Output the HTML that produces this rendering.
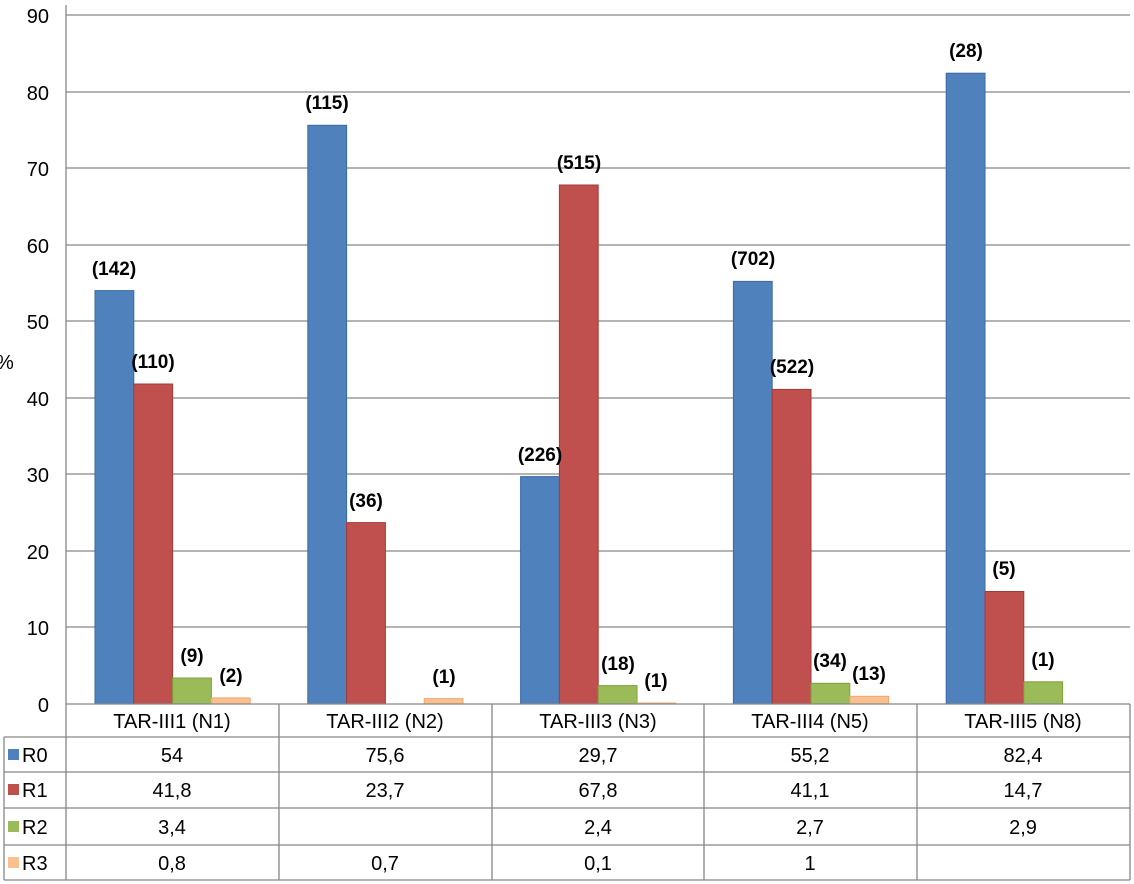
<!DOCTYPE html>
<html><head><meta charset="utf-8"><style>html,body{margin:0;padding:0;background:#fff}svg{display:block}</style></head><body>
<svg width="1134" height="884" xmlns="http://www.w3.org/2000/svg" font-family="Liberation Sans, Arial, sans-serif">
<g stroke="#868686" stroke-width="1.3">
<line x1="66" y1="15" x2="1130" y2="15"/><line x1="66" y1="92" x2="1130" y2="92"/><line x1="66" y1="168" x2="1130" y2="168"/><line x1="66" y1="245" x2="1130" y2="245"/><line x1="66" y1="321" x2="1130" y2="321"/><line x1="66" y1="398" x2="1130" y2="398"/><line x1="66" y1="474" x2="1130" y2="474"/><line x1="66" y1="551" x2="1130" y2="551"/><line x1="66" y1="627" x2="1130" y2="627"/>
</g>
<g font-size="20" fill="#000" text-anchor="end">
<text x="49" y="23">90</text><text x="49" y="100">80</text><text x="49" y="176">70</text><text x="49" y="253">60</text><text x="49" y="329">50</text><text x="49" y="406">40</text><text x="49" y="482">30</text><text x="49" y="559">20</text><text x="49" y="635">10</text><text x="49" y="712">0</text>
</g>
<text x="-4" y="369" font-size="20">%</text>
<g stroke-width="1">
<g fill="#4f81bd" stroke="#3a6aa5">
<rect x="95" y="290.6" width="38.8" height="413.4"/><rect x="307.8" y="125.3" width="38.8" height="578.7"/><rect x="520.6" y="476.6" width="38.8" height="227.4"/><rect x="733.4" y="281.4" width="38.8" height="422.6"/><rect x="946.2" y="73.2" width="38.8" height="630.8"/>
</g>
<g fill="#c0504d" stroke="#a53a37">
<rect x="133.8" y="384" width="38.8" height="320"/><rect x="346.6" y="522.6" width="38.8" height="181.4"/><rect x="559.4" y="185" width="38.8" height="519"/><rect x="772.2" y="389.4" width="38.8" height="314.6"/><rect x="985" y="591.5" width="38.8" height="112.5"/>
</g>
<g fill="#9bbb59" stroke="#7f9f3d">
<rect x="172.6" y="678" width="38.8" height="26"/><rect x="598.2" y="685.6" width="38.8" height="18.4"/><rect x="811" y="683.3" width="38.8" height="20.7"/><rect x="1023.8" y="681.8" width="38.8" height="22.2"/>
</g>
<g fill="#fac090" stroke="#f0a870">
<rect x="211.4" y="697.9" width="38.8" height="6.1"/><rect x="424.2" y="698.6" width="38.8" height="5.4"/><rect x="637" y="703" width="38.8" height="1"/><rect x="849.8" y="696.3" width="38.8" height="7.7"/>
</g>
</g>
<g font-size="19" font-weight="bold" text-anchor="middle">
<text x="114" y="275">(142)</text><text x="153" y="368">(110)</text><text x="192" y="662">(9)</text><text x="231" y="682">(2)</text>
<text x="327" y="109">(115)</text><text x="366" y="507">(36)</text><text x="444" y="683">(1)</text>
<text x="540" y="461">(226)</text><text x="579" y="169">(515)</text><text x="618" y="670">(18)</text><text x="656" y="687">(1)</text>
<text x="753" y="265">(702)</text><text x="792" y="373">(522)</text><text x="830" y="667">(34)</text><text x="869" y="680">(13)</text>
<text x="966" y="57">(28)</text><text x="1004" y="575">(5)</text><text x="1043" y="666">(1)</text>
</g>
<g stroke="#868686" stroke-width="1.3" fill="none">
<line x1="66" y1="5" x2="66" y2="880"/>
<line x1="66" y1="704" x2="1130" y2="704"/>
<line x1="4" y1="737" x2="1130" y2="737"/><line x1="4" y1="772" x2="1130" y2="772"/><line x1="4" y1="808" x2="1130" y2="808"/><line x1="4" y1="845" x2="1130" y2="845"/><line x1="4" y1="880" x2="1130" y2="880"/>
<line x1="4" y1="737" x2="4" y2="880"/><line x1="279" y1="704" x2="279" y2="880"/><line x1="492" y1="704" x2="492" y2="880"/><line x1="704" y1="704" x2="704" y2="880"/><line x1="917" y1="704" x2="917" y2="880"/><line x1="1130" y1="704" x2="1130" y2="880"/>
</g>
<rect x="8" y="749" width="11" height="11" fill="#4f81bd"/><rect x="8" y="784" width="11" height="11" fill="#c0504d"/><rect x="8" y="821" width="11" height="11" fill="#9bbb59"/><rect x="8" y="857" width="11" height="11" fill="#fac090"/>
<g font-size="20"><text x="22" y="762">R0</text><text x="22" y="797">R1</text><text x="22" y="834">R2</text><text x="22" y="870">R3</text></g>
<g font-size="20" text-anchor="middle">
<text x="172" y="728">TAR-III1 (N1)</text><text x="385" y="728">TAR-III2 (N2)</text><text x="598" y="728">TAR-III3 (N3)</text><text x="810" y="728">TAR-III4 (N5)</text><text x="1023" y="728">TAR-III5 (N8)</text>
<text x="172" y="762">54</text><text x="385" y="762">75,6</text><text x="598" y="762">29,7</text><text x="810" y="762">55,2</text><text x="1023" y="762">82,4</text>
<text x="172" y="797">41,8</text><text x="385" y="797">23,7</text><text x="598" y="797">67,8</text><text x="810" y="797">41,1</text><text x="1023" y="797">14,7</text>
<text x="172" y="834">3,4</text><text x="598" y="834">2,4</text><text x="810" y="834">2,7</text><text x="1023" y="834">2,9</text>
<text x="172" y="870">0,8</text><text x="385" y="870">0,7</text><text x="598" y="870">0,1</text><text x="810" y="870">1</text>
</g>
</svg>
</body></html>
